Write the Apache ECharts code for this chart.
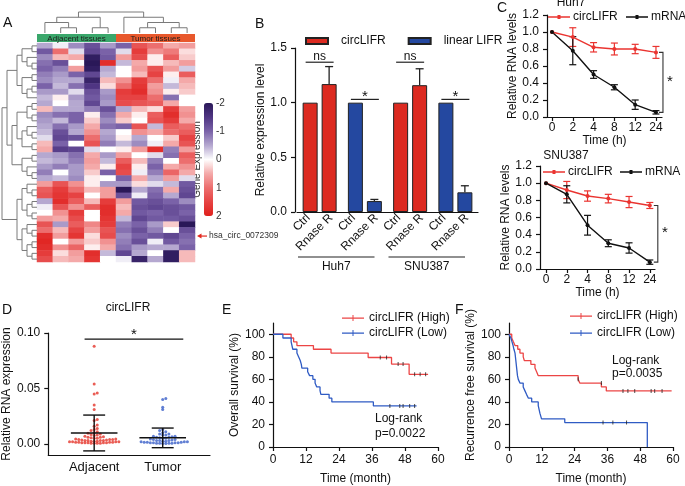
<!DOCTYPE html>
<html><head><meta charset="utf-8">
<script src="https://cdn.jsdelivr.net/npm/echarts@6/dist/echarts.min.js"></script>
<style>html,body{margin:0;padding:0;background:#fff}#c{width:685px;height:486px}</style>
</head><body><div id="c"></div>
<script>
// ================= DATA =================
// Panel A heatmap
const heatCols = ['Adj1','Adj2','Adj3','Adj4','Adj5','Tum1','Tum2','Tum3','Tum4','Tum5'];
const heatGroupNames = ['Adjacent tissues','Tumor tissues'];
const heatGroupFrom = [0,5];
const heatGroupTo = [4,9];
const heatValues = [
[-0.5,-0.1,-0.7,-1.2,-0.6,-1.0,1.3,1.0,0.5,0.6],
[-1.1,1.0,-0.2,-1.3,-1.0,-0.2,1.6,0.7,0.9,0.2],
[-0.7,0.4,0.5,-1.9,-1.1,0.6,1.4,0.1,1.2,0.3],
[-0.9,-1.2,0.0,-2.0,1.8,-0.4,0.5,0.1,0.4,0.6],
[-1.0,-0.8,0.6,-1.9,-0.5,0.0,0.6,1.3,0.6,-0.3],
[-0.8,-0.6,-1.0,-1.3,-0.4,0.0,0.4,1.5,0.1,1.2],
[-0.7,-0.5,-0.5,-1.8,0.4,0.7,1.6,1.0,-0.1,0.5],
[-1.0,-0.4,-0.9,-1.5,0.2,1.0,1.7,0.6,-0.4,0.4],
[-0.6,-0.6,-0.2,-1.2,-0.6,1.6,1.8,0.7,0.1,0.3],
[-0.4,0.1,-0.6,-1.1,-0.7,1.5,1.5,1.0,-0.9,0.0],
[-0.5,0.0,-0.5,-1.3,-0.6,1.4,1.3,1.2,0.5,0.0],
[0.4,-0.5,-0.5,-0.8,-1.2,-0.5,0.4,0.2,1.6,0.6],
[-0.7,-0.9,-1.0,0.1,-0.9,0.5,0.1,1.2,1.8,0.7],
[-0.6,-0.4,-1.0,0.3,-0.7,0.3,0.0,1.3,1.6,0.5],
[-0.5,-0.9,-0.6,0.5,-0.9,-1.0,1.3,-0.4,1.2,1.0],
[-0.4,-1.2,-0.5,0.7,-0.5,0.0,0.7,0.5,1.0,1.2],
[-0.2,-1.3,-1.2,1.0,-0.6,0.1,-0.5,0.0,0.3,1.5],
[0.4,-1.0,0.0,1.3,-0.8,-0.4,-0.7,-0.1,0.5,1.3],
[0.5,-1.4,-1.3,-0.2,0.0,0.1,0.6,1.8,-0.8,0.6],
[-0.5,-0.6,-0.9,0.5,-0.6,0.6,0.0,-0.2,-0.9,1.2],
[-0.4,-0.5,-0.8,0.6,-0.4,1.2,0.4,-0.8,0.0,1.0],
[-0.6,-0.8,-0.6,0.5,0.1,1.5,0.1,-1.0,0.5,0.7],
[-0.8,0.0,-0.6,0.3,-1.0,1.4,-0.1,-0.8,1.1,0.5],
[-0.5,-0.4,-0.7,0.1,0.0,-1.0,0.5,-0.5,0.6,-0.2],
[0.6,1.3,0.7,0.1,-0.6,-0.6,0.2,-0.2,-0.4,-1.1],
[1.2,1.6,1.0,0.4,0.6,-2.0,-0.5,-0.9,0.5,-1.2],
[1.3,1.7,1.5,0.0,0.6,-1.2,-0.1,-1.0,-0.5,-1.3],
[-0.5,1.8,1.2,0.4,1.6,0.6,-1.1,-1.2,-1.0,-0.7],
[-0.1,1.3,0.7,1.2,1.8,0.4,-1.2,-1.3,-1.2,-1.1],
[0.0,0.7,1.6,0.0,1.8,0.5,-1.1,-1.0,-1.2,-1.0],
[0.6,0.5,1.4,0.0,1.7,-0.4,-1.3,-1.1,-1.1,-1.2],
[1.3,-0.6,1.2,0.8,1.6,-0.8,-1.0,-0.6,0.3,-2.0],
[1.0,0.4,1.5,0.6,1.3,-0.9,-1.2,-0.8,0.0,-1.2],
[1.8,0.6,1.7,0.2,1.4,-0.7,-1.0,-1.1,-1.3,-1.0],
[1.9,0.0,0.6,0.3,0.7,-0.8,-1.2,-0.1,-1.1,-0.9],
[1.8,0.7,1.1,0.1,0.5,-0.9,-0.6,-0.5,-0.5,-1.0],
[1.6,0.2,0.6,1.8,-0.4,-1.3,-0.5,0.0,-1.9,0.4],
[1.4,0.4,0.5,1.7,0.0,-0.1,-1.8,-0.5,-1.9,0.4]
];
const highlightRow = 33;
const highlightLabel = 'hsa_circ_0072309';
const colTree = [[[0,[1,2]],[3,4]],[5,[[6,7],[8,9]]]];
const rowTree = [
  [ [[[0,1],[2,[3,4]]],[[5,6],[[7,8],9]]],
    [ [[[10,11],[12,13]],[[14,[15,16]],[17,18]]], [[19,20],[21,[22,23]]] ] ],
  [ [[24,[25,26]],[[27,28],[29,30]]], [[31,[32,33]],[[34,35],[36,37]]] ]
];
const colorbarTicks = [-2,-1,0,1,2];

// Panel B
const bLines = ['Huh7','Huh7','SNU387','SNU387'];
const bGenes = ['circLIFR','linear LIFR','circLIFR','linear LIFR'];
const bCtrl = [1.0,1.0,1.0,1.0];
const bRnase = [1.17,0.10,1.16,0.18];
const bRnaseErr = [0.16,0.015,0.15,0.06];
const bSigText = ['ns','*','ns','*'];
const bSigLevel = [1.37,1.03,1.37,1.03];
const bTreatments = ['Ctrl','Rnase R'];
const bGroupNames = ['Huh7','SNU387'];

// Panel C
const cTimes = ['0','2','4','8','12','24'];
const huhCirc = [1.00,0.94,0.82,0.80,0.80,0.76];
const huhCircErr = [0,0.11,0.055,0.07,0.055,0.07];
const huhMrna = [1.00,0.78,0.50,0.35,0.145,0.055];
const huhMrnaErr = [0,0.165,0.045,0.03,0.055,0.02];
const snuCirc = [1.00,0.92,0.85,0.82,0.78,0.74];
const snuCircErr = [0,0.10,0.06,0.05,0.065,0.035];
const snuMrna = [1.00,0.87,0.51,0.30,0.245,0.08];
const snuMrnaErr = [0,0.10,0.115,0.04,0.06,0.025];

// Panel D
const dGroups = ['Adjacent','Tumor'];
const dAdjacent = [0.088,0.054,0.046,0.045,0.035,0.031,0.022,0.021,0.017,0.016,0.014,0.013,0.012,0.011,0.010,0.0095,0.009,0.0085,0.008,0.0075,0.007,0.0065,0.006,0.006,0.0055,0.005,0.005,0.0045,0.0045,0.004,0.004,0.004,0.0035,0.0035,0.003,0.003,0.003,0.003,0.0025,0.0025,0.0025,0.002,0.002,0.002,0.002,0.0015,0.0015,0.0015,0.0015,0.001,0.001,0.001,0.001,0.001,0.0005,0.0005,0.0005,0.0005];
const dTumor = [0.041,0.040,0.033,0.031,0.013,0.012,0.011,0.010,0.009,0.009,0.008,0.008,0.007,0.007,0.0065,0.006,0.006,0.0055,0.005,0.005,0.0045,0.004,0.004,0.0035,0.003,0.003,0.003,0.0025,0.0025,0.002,0.002,0.002,0.0015,0.0015,0.0015,0.001,0.001,0.001,0.001,0.0005,0.0005,0.0005,0.0005,0.0003,0.0003];
const dMean = [0.0099,0.0055];
const dSdLow = [-0.0063,-0.0034];
const dSdHigh = [0.0260,0.0143];
const dSig = [-0.14,1.30,0.0945];

// Panel E (overall survival)
const osHigh = [[0,100],[6.6,96.7],[7.5,93.3],[8.7,90],[14.7,86.7],[21.1,83.3],[34.6,79.4],[43.1,73.6],[49.5,64.5],[56.4,64.5]];
const osHighCensor = [[39,79.4],[41.3,79.4],[45.5,73.6],[47.3,73.6],[51.5,64.5],[53.5,64.5],[55.5,64.5]];
const osLow = [[0,100],[3.6,96.7],[6.6,93.3],[7.2,86.7],[8.7,83.3],[9.3,80],[9.9,76.7],[10.3,73.3],[10.5,70],[12.6,66.7],[13.3,63.3],[14.5,60],[15.3,56.7],[15.9,53.3],[17.1,50],[17.4,46.7],[20.4,43.3],[21.4,40],[36.5,36.4],[52.2,36.4]];
const osLowCensor = [[42.5,36.4],[46.1,36.4],[47.3,36.4],[49.7,36.4],[51.5,36.4]];
const osP = ['Log-rank','p=0.0022'];

// Panel F (recurrence free survival)
const rfsHigh = [[0,100],[1.0,96.7],[1.6,93.3],[2.2,90],[3.2,86.7],[4.0,83.3],[5.2,80],[5.6,76.7],[8.0,73.3],[9.5,70],[10.1,66.7],[10.7,63.3],[25.3,60],[25.9,56.7],[33.8,53.3],[35.6,49.7],[59.5,49.7]];
const rfsHighCensor = [[25.3,60],[33.8,56.7],[41.7,49.7],[43.5,49.7],[46,49.7],[52,49.7],[53.3,49.7],[56,49.7]];
const rfsLow = [[0,100],[0.7,96.7],[1.1,93.3],[1.5,90],[1.8,86.7],[2.2,83.3],[2.5,76.7],[2.8,70],[3.1,63.3],[3.4,60],[4.0,56.7],[5.2,53.3],[5.8,50],[6.4,46.7],[7.1,43.3],[8.3,40],[10.7,36.7],[11.3,30],[11.9,25],[20.4,21.7],[50.6,0]];
const rfsLowCensor = [[34.4,21.7],[38,21.7],[43,21.7]];
const rfsP = ['Log-rank','p=0.0035'];

// ================= STYLE =================
const FONT = '"Liberation Sans", Arial, Helvetica, sans-serif';
const TXT = '#111';
const RED_BAR = '#dc2a20', BLUE_BAR = '#2448a0';
const RED_LINE = '#ea3430', BLACK_LINE = '#111';
const KM_RED = '#ec4545', KM_BLUE = '#2f5bc4';
const D_RED = '#e5342a', D_BLUE = '#3a5fc8';
const GROUP_COLORS = ['#3aa76b','#e8582c'];
const FS = 12;
const ICON_LINE_DOT = 'path://M0,1.3h22v1.4h-22z M9.5,0h3v4h-3z';
const ICON_LINE_TICK = 'path://M0,2.4h22v1.3h-22z M10.5,0h1v6h-1z';

function merge(a,b){const o=Object.assign({},a);for(const k in b){const bv=b[k],av=a[k];if(bv&&typeof bv==='object'&&!Array.isArray(bv)&&av&&typeof av==='object'&&!Array.isArray(av))o[k]=merge(av,bv);else o[k]=bv;}return o;}
const baseAxis = {
  axisLine:{show:true,onZero:false,lineStyle:{color:'#111',width:1.2}},
  axisTick:{show:true,length:4,lineStyle:{color:'#111',width:1.2}},
  axisLabel:{color:TXT,fontSize:FS,fontFamily:FONT},
  splitLine:{show:false},
  nameTextStyle:{color:TXT,fontSize:FS,fontFamily:FONT},
  nameLocation:'middle'
};
const ax = (o)=>merge(baseAxis,o);
const hidden = (o)=>Object.assign({show:false,splitLine:{show:false}},o);

// ================= DERIVED =================
function layoutTree(tree){
  const nodes=[];
  function rec(t){
    if(typeof t==='number') return {p:t,h:0};
    const a=rec(t[0]), b=rec(t[1]);
    const h=Math.max(a.h,b.h)+1;
    nodes.push([a.p,b.p,a.h,b.h,h]);
    return {p:(a.p+b.p)/2,h:h};
  }
  const r=rec(tree);
  return {nodes:nodes,H:r.h};
}
const colDend = layoutTree(colTree);
const rowDend = layoutTree(rowTree);
const heatData = [];
heatValues.forEach((row,r)=>row.forEach((v,c)=>heatData.push([c,r,v])));
const rowNames = heatValues.map((_,i)=>String(i));

function swarm(vals,center,bin,step){
  const s=vals.slice().sort((a,b)=>a-b);const cnt={};
  return s.map(v=>{const k=Math.floor(v/bin);const j=(cnt[k]=(cnt[k]||0)+1)-1;
    const off=j===0?0:(j%2?1:-1)*Math.ceil(j/2)*step;return [center+off,v];});
}

const bBarW = 15, bGap = 4, bOff = (bBarW+bGap)/2;
const bCats = bLines.map((l,i)=>l+' '+bGenes[i]);
const bTickLabels = [];
bCats.forEach(()=>bTreatments.forEach(t=>bTickLabels.push(t)));

function lineText(x,y,t,size,align,va){return {type:'text',x:x,y:y,style:{text:t,fill:TXT,fontSize:size||FS,fontFamily:FONT,align:align||'left',verticalAlign:va||'middle'}};}

function errSeries(xi,yi,vals,errs,color){
  return {type:'custom',xAxisIndex:xi,yAxisIndex:yi,z:3,silent:true,
    data:vals.map((v,i)=>[i,v,errs[i]]),
    renderItem:(p,api)=>{const i=api.value(0),v=api.value(1),e=api.value(2);if(!e)return null;
      const a=api.coord([i,v+e]),b=api.coord([i,v-e]);const st={stroke:color,lineWidth:1.2};
      return {type:'group',children:[
        {type:'line',shape:{x1:a[0],y1:a[1],x2:b[0],y2:b[1]},style:st},
        {type:'line',shape:{x1:a[0]-3.5,y1:a[1],x2:a[0]+3.5,y2:a[1]},style:st},
        {type:'line',shape:{x1:b[0]-3.5,y1:b[1],x2:b[0]+3.5,y2:b[1]},style:st}]};}};
}
function bracketSeries(xi,yi,idx,v1,v2,dx){
  return {type:'custom',xAxisIndex:xi,yAxisIndex:yi,silent:true,data:[[idx,v1,v2]],
    renderItem:(p,api)=>{const a=api.coord([api.value(0),api.value(1)]),b=api.coord([api.value(0),api.value(2)]);
      const x=a[0]+dx;
      return {type:'group',children:[
        {type:'polyline',shape:{points:[[x-4,a[1]],[x,a[1]],[x,b[1]],[x-4,b[1]]]},style:{stroke:'#333',lineWidth:1.1,fill:null}},
        {type:'text',x:x+7,y:(a[1]+b[1])/2-1,style:{text:'*',fill:TXT,fontSize:15,fontFamily:FONT,align:'center',verticalAlign:'middle'}}]};}};
}
function kmLine(name,data,color,xi,yi){return {type:'line',name:name,xAxisIndex:xi,yAxisIndex:yi,data:data,step:'end',symbol:'none',lineStyle:{color:color,width:1.3},itemStyle:{color:color},silent:true};}
function censor(data,xi,yi){return {type:'scatter',xAxisIndex:xi,yAxisIndex:yi,data:data,symbol:'rect',symbolSize:[1,4],itemStyle:{color:'#222'},z:4,silent:true};}
function oneLegend(name,left,top){return {data:[name],left:left,top:top,icon:ICON_LINE_DOT,itemWidth:22,itemHeight:4,padding:0,selectedMode:false,
  formatter:n=>n.split('|')[0],textStyle:{color:TXT,fontSize:FS,fontFamily:FONT,padding:[0,0,0,-2]}};}
function kmLegend(names,left,top,gap){return {data:names,orient:'vertical',left:left,top:top,icon:ICON_LINE_TICK,itemWidth:22,itemHeight:6,itemGap:gap,padding:0,selectedMode:false,
  formatter:n=>n.split('|')[0],textStyle:{color:TXT,fontSize:FS,fontFamily:FONT}};}

// ================= OPTION =================
const option = {
  animation:false,
  textStyle:{fontFamily:FONT},
  grid:[
    {left:37,top:43,width:158,height:219},
    {left:37,top:12,width:158,height:21},
    {left:2,top:43,width:35,height:219},
    {left:37,top:34,width:158,height:8},
    {left:204,top:103,width:9,height:113},
    {left:297,top:48,width:181,height:164},
    {left:547,top:15,width:115,height:102},
    {left:540,top:166,width:115,height:103},
    {left:45,top:333,width:165,height:122},
    {left:273,top:323,width:165,height:124},
    {left:509,top:323,width:164,height:124}
  ],
  xAxis:[
    hidden({type:'category',gridIndex:0,data:heatCols}),
    hidden({type:'value',gridIndex:1,min:-0.5,max:9.5}),
    hidden({type:'value',gridIndex:2,min:0,max:rowDend.H,inverse:true}),
    hidden({type:'value',gridIndex:3,min:-0.5,max:9.5}),
    hidden({type:'value',gridIndex:4,min:0,max:1}),
    ax({type:'category',gridIndex:5,position:'bottom',data:bCats,axisTick:{show:false},axisLabel:{show:false}}),
    ax({type:'category',gridIndex:5,position:'bottom',data:bTickLabels,axisLine:{show:false},axisTick:{show:false},
        axisLabel:{rotate:45,interval:0,margin:4}}),
    ax({type:'value',gridIndex:6,min:-0.24,max:5.29,name:'Time (h)',nameGap:16,
        axisLabel:{customValues:[0,1,2,3,4,5],formatter:v=>cTimes[Math.round(v)],margin:5},
        axisTick:{customValues:[0,1,2,3,4,5]}}),
    ax({type:'value',gridIndex:7,min:-0.29,max:5.25,name:'Time (h)',nameGap:17,
        axisLabel:{customValues:[0,1,2,3,4,5],formatter:v=>cTimes[Math.round(v)],margin:5},
        axisTick:{customValues:[0,1,2,3,4,5]}}),
    ax({type:'value',gridIndex:8,min:-0.67,max:1.69,axisTick:{show:false},
        axisLabel:{customValues:[0,1],formatter:v=>dGroups[Math.round(v)],fontSize:13,margin:6}}),
    ax({type:'value',gridIndex:9,min:0,max:60,interval:12,name:'Time (month)',nameGap:26,axisLabel:{margin:7}}),
    ax({type:'value',gridIndex:10,min:0,max:60,interval:12,name:'Time (month)',nameGap:26,axisLabel:{margin:7}})
  ],
  yAxis:[
    hidden({type:'category',gridIndex:0,data:rowNames,inverse:true}),
    hidden({type:'value',gridIndex:1,min:0,max:colDend.H}),
    hidden({type:'value',gridIndex:2,min:-0.5,max:heatValues.length-0.5,inverse:true}),
    hidden({type:'value',gridIndex:3,min:0,max:1}),
    {type:'value',gridIndex:4,min:-2,max:2,interval:1,inverse:true,position:'right',
      axisLine:{show:false},axisTick:{show:false},splitLine:{show:false},
      axisLabel:{color:'#333',fontSize:10,fontFamily:FONT,margin:3}},
    {type:'value',gridIndex:4,min:-2,max:2,position:'left',name:'Gene Expression',nameLocation:'middle',nameGap:2,
      nameTextStyle:{color:'#333',fontSize:10,fontFamily:FONT},axisLine:{show:false},axisTick:{show:false},axisLabel:{show:false},splitLine:{show:false}},
    ax({type:'value',gridIndex:5,min:0,max:1.5,interval:0.5,offset:2,name:'Relative expression level',nameGap:23,
        axisLabel:{formatter:v=>v.toFixed(1)}}),
    ax({type:'value',gridIndex:6,min:0,max:1.2,interval:0.2,name:'Relative RNA levels',nameGap:27,
        axisLabel:{formatter:v=>v.toFixed(1)}}),
    ax({type:'value',gridIndex:7,min:0,max:1.2,interval:0.2,name:'Relative RNA levels',nameGap:26,
        axisLabel:{formatter:v=>v.toFixed(1)}}),
    ax({type:'value',gridIndex:8,min:-0.01,max:0.1,name:'Relative RNA expression',nameGap:31,
        axisLabel:{customValues:[0,0.05,0.1],formatter:v=>v.toFixed(2)},axisTick:{customValues:[0,0.05,0.1]}}),
    ax({type:'value',gridIndex:9,min:0,max:110,name:'Overall survival (%)',nameGap:29,
        axisLabel:{customValues:[0,20,40,60,80,100]},axisTick:{customValues:[0,20,40,60,80,100]}}),
    ax({type:'value',gridIndex:10,min:0,max:110,name:'Recurrence free survival (%)',nameGap:31,
        axisLabel:{customValues:[0,20,40,60,80,100]},axisTick:{customValues:[0,20,40,60,80,100]}})
  ],
  visualMap:[{type:'continuous',seriesIndex:0,min:-2,max:2,inverse:true,calculable:false,
    left:204,top:103,itemWidth:9,itemHeight:113,padding:0,showLabel:false,
    inRange:{color:['#2a1858','#4f3583','#7a62a8','#b5a8d0','#ffffff','#f4a9a9','#ec6e6e','#e64343','#e0201c']}}],
  legend:[
    {data:['circLIFR','linear LIFR'],left:305,top:35,icon:'rect',itemWidth:22,itemHeight:6,itemGap:22,padding:0,selectedMode:false,
      textStyle:{color:TXT,fontSize:FS,fontFamily:FONT,padding:[0,0,0,8]}},
    oneLegend('circLIFR|huh7',548,11),
    oneLegend('mRNA|huh7',626,11),
    oneLegend('circLIFR|snu',543,166),
    oneLegend('mRNA|snu',620,166),
    kmLegend(['circLIFR (High)|os','circLIFR (Low)|os'],342,312,3),
    kmLegend(['circLIFR (High)|rfs','circLIFR (Low)|rfs'],570,310,5)
  ],
  series:[
    {type:'heatmap',xAxisIndex:0,yAxisIndex:0,data:heatData,silent:true},
    {type:'custom',xAxisIndex:1,yAxisIndex:1,silent:true,data:colDend.nodes,
      renderItem:(p,api)=>{const ap=api.value(0),bp=api.value(1),ah=api.value(2),bh=api.value(3),h=api.value(4);
        return {type:'polyline',shape:{points:[api.coord([ap,ah]),api.coord([ap,h]),api.coord([bp,h]),api.coord([bp,bh])]},style:{stroke:'#7a7a7a',lineWidth:1,fill:null}};}},
    {type:'custom',xAxisIndex:2,yAxisIndex:2,silent:true,data:rowDend.nodes,
      renderItem:(p,api)=>{const ap=api.value(0),bp=api.value(1),ah=api.value(2),bh=api.value(3),h=api.value(4);
        return {type:'polyline',shape:{points:[api.coord([ah,ap]),api.coord([h,ap]),api.coord([h,bp]),api.coord([bh,bp])]},style:{stroke:'#7a7a7a',lineWidth:1,fill:null}};}},
    {type:'custom',xAxisIndex:3,yAxisIndex:3,silent:true,data:heatGroupNames.map((n,i)=>[heatGroupFrom[i],heatGroupTo[i],i]),
      renderItem:(p,api)=>{const a=api.coord([api.value(0)-0.5,1]),b=api.coord([api.value(1)+0.5,0]);const gi=api.value(2);
        return {type:'group',children:[
          {type:'rect',shape:{x:a[0],y:a[1],width:b[0]-a[0],height:b[1]-a[1]},style:{fill:GROUP_COLORS[gi]}},
          {type:'text',x:(a[0]+b[0])/2,y:(a[1]+b[1])/2+0.5,style:{text:heatGroupNames[gi],fill:'#1b1b1b',fontSize:8,fontFamily:FONT,align:'center',verticalAlign:'middle'}}]};}},
    {type:'custom',xAxisIndex:0,yAxisIndex:0,silent:true,data:[[heatCols.length-1,highlightRow]],
      renderItem:(p,api)=>{const c=api.coord([api.value(0),api.value(1)]);const s=api.size([1,1]);const x0=c[0]+s[0]/2+2,y=c[1];
        return {type:'group',children:[
          {type:'line',shape:{x1:x0+3,y1:y,x2:x0+10,y2:y},style:{stroke:'#e3281e',lineWidth:1.2}},
          {type:'polygon',shape:{points:[[x0,y],[x0+4.5,y-2.5],[x0+4.5,y+2.5]]},style:{fill:'#e3281e'}},
          {type:'text',x:x0+12,y:y,style:{text:highlightLabel,fill:'#333',fontSize:8.5,fontFamily:FONT,align:'left',verticalAlign:'middle'}}]};}},
    {type:'bar',name:'circLIFR',xAxisIndex:5,yAxisIndex:6,stack:'ctrl',barWidth:bBarW,barGap:(bGap/bBarW*100)+'%',
      data:bCtrl.map((v,i)=>bGenes[i]==='circLIFR'?v:'-'),itemStyle:{color:RED_BAR,borderColor:'#222',borderWidth:1},silent:true},
    {type:'bar',name:'linear LIFR',xAxisIndex:5,yAxisIndex:6,stack:'ctrl',barWidth:bBarW,barGap:(bGap/bBarW*100)+'%',
      data:bCtrl.map((v,i)=>bGenes[i]==='linear LIFR'?v:'-'),itemStyle:{color:BLUE_BAR,borderColor:'#222',borderWidth:1},silent:true},
    {type:'bar',name:'circLIFR',xAxisIndex:5,yAxisIndex:6,stack:'rnase',barWidth:bBarW,barGap:(bGap/bBarW*100)+'%',
      data:bRnase.map((v,i)=>bGenes[i]==='circLIFR'?v:'-'),itemStyle:{color:RED_BAR,borderColor:'#222',borderWidth:1},silent:true},
    {type:'bar',name:'linear LIFR',xAxisIndex:5,yAxisIndex:6,stack:'rnase',barWidth:bBarW,barGap:(bGap/bBarW*100)+'%',
      data:bRnase.map((v,i)=>bGenes[i]==='linear LIFR'?v:'-'),itemStyle:{color:BLUE_BAR,borderColor:'#222',borderWidth:1},silent:true},
    {type:'custom',xAxisIndex:5,yAxisIndex:6,silent:true,z:1,data:bRnase.map((v,i)=>[i,v,bRnaseErr[i]]),
      renderItem:(p,api)=>{const i=api.value(0),v=api.value(1),e=api.value(2);const a=api.coord([i,v]),t=api.coord([i,v+e]);const x=a[0]+bOff;
        const st={stroke:'#222',lineWidth:1.3};
        return {type:'group',children:[{type:'line',shape:{x1:x,y1:a[1],x2:x,y2:t[1]},style:st},{type:'line',shape:{x1:x-4,y1:t[1],x2:x+4,y2:t[1]},style:st}]};}},
    {type:'custom',xAxisIndex:5,yAxisIndex:6,silent:true,data:bSigLevel.map((l,i)=>[i,l,i]),
      renderItem:(p,api)=>{const c=api.coord([api.value(0),api.value(1)]);const t=bSigText[api.value(2)];const star=t==='*';
        return {type:'group',children:[
          {type:'line',shape:{x1:c[0]-14,y1:c[1],x2:c[0]+14,y2:c[1]},style:{stroke:'#222',lineWidth:1.2}},
          {type:'text',x:c[0],y:c[1]-(star?3:6),style:{text:t,fill:TXT,fontSize:star?15:FS,fontFamily:FONT,align:'center',verticalAlign:'middle'}}]};}},
    {type:'custom',xAxisIndex:5,yAxisIndex:6,silent:true,data:bGroupNames.map((n,i)=>[2*i,2*i+1,i]),
      renderItem:(p,api)=>{const a=api.coord([api.value(0),0]),b=api.coord([api.value(1),0]);const bw=api.size([1,0])[0];
        const x1=a[0]-bw/2+1,x2=b[0]+bw/2-13,y=a[1]+45;
        return {type:'group',children:[
          {type:'line',shape:{x1:x1,y1:y,x2:x2,y2:y},style:{stroke:'#222',lineWidth:1.2}},
          {type:'text',x:(x1+x2)/2,y:y+10,style:{text:bGroupNames[api.value(2)],fill:TXT,fontSize:FS,fontFamily:FONT,align:'center',verticalAlign:'middle'}}]};}},
    {type:'line',name:'circLIFR|huh7',xAxisIndex:7,yAxisIndex:7,data:huhCirc.map((v,i)=>[i,v]),symbol:'circle',symbolSize:4,
      lineStyle:{color:RED_LINE,width:1.4},itemStyle:{color:RED_LINE},silent:true},
    {type:'line',name:'mRNA|huh7',xAxisIndex:7,yAxisIndex:7,data:huhMrna.map((v,i)=>[i,v]),symbol:'circle',symbolSize:4,
      lineStyle:{color:BLACK_LINE,width:1.4},itemStyle:{color:BLACK_LINE},silent:true},
    errSeries(7,7,huhCirc,huhCircErr,RED_LINE),
    errSeries(7,7,huhMrna,huhMrnaErr,BLACK_LINE),
    bracketSeries(7,7,cTimes.length-1,huhCirc[5],huhMrna[5],7),
    {type:'line',name:'circLIFR|snu',xAxisIndex:8,yAxisIndex:8,data:snuCirc.map((v,i)=>[i,v]),symbol:'circle',symbolSize:4,
      lineStyle:{color:RED_LINE,width:1.4},itemStyle:{color:RED_LINE},silent:true},
    {type:'line',name:'mRNA|snu',xAxisIndex:8,yAxisIndex:8,data:snuMrna.map((v,i)=>[i,v]),symbol:'circle',symbolSize:4,
      lineStyle:{color:BLACK_LINE,width:1.4},itemStyle:{color:BLACK_LINE},silent:true},
    errSeries(8,8,snuCirc,snuCircErr,RED_LINE),
    errSeries(8,8,snuMrna,snuMrnaErr,BLACK_LINE),
    bracketSeries(8,8,cTimes.length-1,snuCirc[5],snuMrna[5],8),
    {type:'scatter',xAxisIndex:9,yAxisIndex:9,data:swarm(dAdjacent,0,0.0025,0.045),symbol:'circle',symbolSize:3,itemStyle:{color:D_RED},silent:true},
    {type:'scatter',xAxisIndex:9,yAxisIndex:9,data:swarm(dTumor,1,0.0025,0.045),symbol:'circle',symbolSize:3,itemStyle:{color:D_BLUE},silent:true},
    {type:'custom',xAxisIndex:9,yAxisIndex:9,silent:true,z:4,data:dMean.map((m,i)=>[i,m,dSdLow[i],dSdHigh[i]]),
      renderItem:(p,api)=>{const i=api.value(0);const m=api.coord([i,api.value(1)]),lo=api.coord([i,api.value(2)]),hi=api.coord([i,api.value(3)]);
        const wl=api.coord([i-0.34,0])[0],wr=api.coord([i+0.34,0])[0],cl=api.coord([i-0.16,0])[0],cr=api.coord([i+0.16,0])[0];
        const st={stroke:'#111',lineWidth:1.4};
        return {type:'group',children:[
          {type:'line',shape:{x1:m[0],y1:lo[1],x2:m[0],y2:hi[1]},style:st},
          {type:'line',shape:{x1:wl,y1:m[1],x2:wr,y2:m[1]},style:st},
          {type:'line',shape:{x1:cl,y1:lo[1],x2:cr,y2:lo[1]},style:st},
          {type:'line',shape:{x1:cl,y1:hi[1],x2:cr,y2:hi[1]},style:st}]};}},
    {type:'custom',xAxisIndex:9,yAxisIndex:9,silent:true,data:[dSig],
      renderItem:(p,api)=>{const a=api.coord([api.value(0),api.value(2)]),b=api.coord([api.value(1),api.value(2)]);
        return {type:'group',children:[
          {type:'line',shape:{x1:a[0],y1:a[1],x2:b[0],y2:b[1]},style:{stroke:'#111',lineWidth:1.2}},
          {type:'text',x:(a[0]+b[0])/2,y:a[1]-4,style:{text:'*',fill:TXT,fontSize:15,fontFamily:FONT,align:'center',verticalAlign:'middle'}}]};}},
    kmLine('circLIFR (High)|os',osHigh,KM_RED,10,10),
    kmLine('circLIFR (Low)|os',osLow,KM_BLUE,10,10),
    censor(osHighCensor,10,10),
    censor(osLowCensor,10,10),
    kmLine('circLIFR (High)|rfs',rfsHigh,KM_RED,11,11),
    kmLine('circLIFR (Low)|rfs',rfsLow,KM_BLUE,11,11),
    censor(rfsHighCensor,11,11),
    censor(rfsLowCensor,11,11)
  ],
  graphic:[
    lineText(3,23,'A',14),
    lineText(255,24,'B',14),
    lineText(497,8,'C',14),
    lineText(2,310,'D',14),
    lineText(222,310,'E',14),
    lineText(455,310,'F',14),
    lineText(571,3,'Huh7',FS,'center'),
    lineText(566,156,'SNU387',FS,'center'),
    lineText(128,308,'circLIFR',FS,'center'),
    lineText(375,419,osP[0],FS),
    lineText(375,434,osP[1],FS),
    lineText(612,361,rfsP[0],FS),
    lineText(612,374,rfsP[1],FS)
  ]
};
const chart = echarts.init(document.getElementById('c'));
chart.setOption(option);
</script>
</body></html>
